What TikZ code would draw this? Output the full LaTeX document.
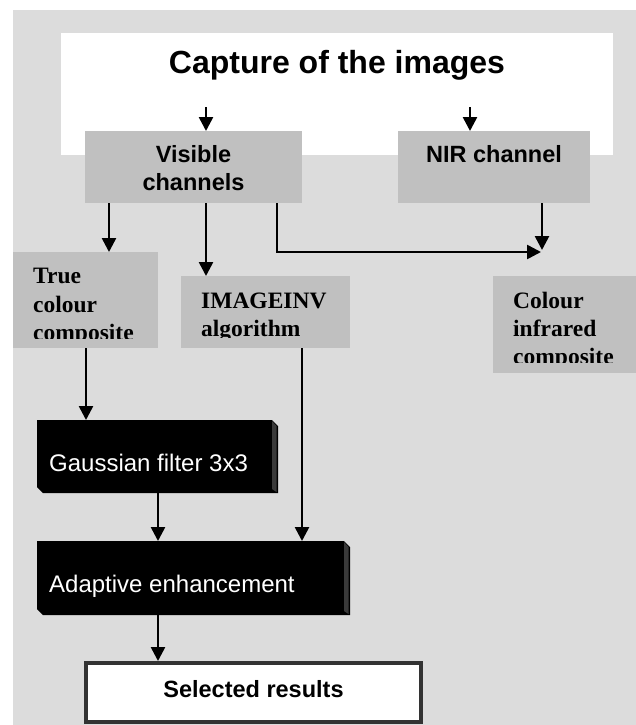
\documentclass[tikz,border=0pt]{standalone}
\usepackage{fontspec}
\setmainfont{Liberation Serif}
\setsansfont{Liberation Sans}
\usetikzlibrary{arrows.meta,calc}
\definecolor{bgc}{HTML}{DCDCDC}
\definecolor{boxc}{HTML}{C0C0C0}
\definecolor{sidec}{HTML}{3A3A3A}
\definecolor{selc}{HTML}{333333}
\newcommand\bevbox[1]{%
  \fill[black] (#1.north west) -- ([xshift=-6pt]#1.north east) -- ([yshift=-6pt]#1.north east)
    -- (#1.south east) -- ([xshift=6pt]#1.south west) -- ([yshift=6pt]#1.south west) -- cycle;
  \fill[sidec] ([xshift=-6pt,yshift=-1pt]#1.north east) -- ([xshift=-1.5pt,yshift=-6pt]#1.north east)
    -- ([xshift=-1.5pt,yshift=1pt]#1.south east) -- ([xshift=-6pt,yshift=4pt]#1.south east) -- cycle;
}
\begin{document}
\begin{tikzpicture}[x=1pt,y=-1pt,
  arr/.style={line width=2.6pt, -{Triangle[length=14pt,width=14pt]}},
  gbox/.style={fill=boxc, inner sep=0pt, outer sep=0pt, anchor=north west},
  area/.style={inner sep=0pt, outer sep=0pt, anchor=north west},
  hs/.style={font=\sffamily\bfseries\fontsize{23.5}{28}\selectfont, inner sep=0pt, anchor=base},
  ts/.style={font=\rmfamily\bfseries\fontsize{23.5}{28}\selectfont, inner sep=0pt, anchor=base west},
  ws/.style={font=\sffamily\fontsize{24}{28}\selectfont, text=white, inner sep=0pt, anchor=base west},
]
\useasboundingbox (0,0) rectangle (636,725);
\fill[bgc] (13,10) rectangle (636,725);
% capture area
\node[area, fill=white, minimum width=552pt, minimum height=122pt] (cap) at (61,33) {};
\node[hs, font=\sffamily\bfseries\fontsize{32}{38}\selectfont] (capt) at (337,74) {Capture of the images};
% channel boxes
\node[gbox, minimum width=217pt, minimum height=72pt] (vis) at (85,131) {};
\node[hs] (vist1) at (193.5,162) {Visible};
\node[hs] (vist2) at (193.5,190) {channels};
\node[gbox, minimum width=192pt, minimum height=72pt] (nir) at (398,131) {};
\node[hs] (nirt) at (494,162) {NIR channel};
% product boxes
\node[gbox, minimum width=145pt, minimum height=96pt] (tc) at (13,252) {};
\node[gbox, minimum width=169pt, minimum height=72pt] (inv) at (181,276) {};
\node[gbox, minimum width=143pt, minimum height=97pt] (cir) at (493,276) {};
\begin{scope}
  \clip (tc.north west) rectangle ([yshift=10pt]tc.south east);
  \node[ts] (tct1) at (33,283) {True};
  \node[ts] (tct2) at (33,312) {colour};
  \node[ts] (tct3) at (33,340) {composite};
\end{scope}
\begin{scope}
  \clip (inv.north west) rectangle ([yshift=10.5pt]inv.south east);
  \node[ts] (invt1) at (201,308) {IMAGEINV};
  \node[ts] (invt2) at (201,336) {algorithm};
\end{scope}
\begin{scope}
  \clip (cir.north west) rectangle ([yshift=10.5pt]cir.south east);
  \node[ts] (cirt1) at (513,308) {Colour};
  \node[ts] (cirt2) at (513,336) {infrared};
  \node[ts] (cirt3) at (513,364) {composite};
\end{scope}
% processing boxes
\node[area, minimum width=241pt, minimum height=73pt] (g) at (37,420) {};
\node[area, minimum width=313pt, minimum height=74pt] (a) at (37,541) {};
\bevbox{g}
\bevbox{a}
\node[ws] (gt) at (49,471) {Gaussian filter 3x3};
\node[ws] (at) at (49,592) {Adaptive enhancement};
% result box
\node[area, outer sep=2pt, fill=white, draw=selc, line width=4pt, minimum width=335pt, minimum height=59pt] (sel) at (84,661) {};
\node[hs] (selt) at (253.5,697) {Selected results};
% connectors
\coordinate (c1) at (206,107);
\coordinate (c2) at (470,107);
\coordinate (m1) at (541,252);
\coordinate (m2) at (542,250);
\draw[arr] (c1) -- (vis.north -| c1);
\draw[arr] (c2) -- (nir.north -| c2);
\draw[arr] (vis.south -| 109,0) -- (tc.north -| 109,0);
\draw[arr] (vis.south -| 206,0) -- (inv.north -| 206,0);
\draw[arr] (vis.south -| 277,0) |- (m1);
\draw[arr] (nir.south -| m2) -- (m2);
\draw[arr] (tc.south -| 86,0) -- (g.north -| 86,0);
\draw[arr] (inv.south -| 302,0) -- (a.north -| 302,0);
\draw[arr] (g.south -| 158,0) -- (a.north -| 158,0);
\draw[arr] (a.south -| 158,0) -- (sel.north -| 158,0);
\end{tikzpicture}
\end{document}
